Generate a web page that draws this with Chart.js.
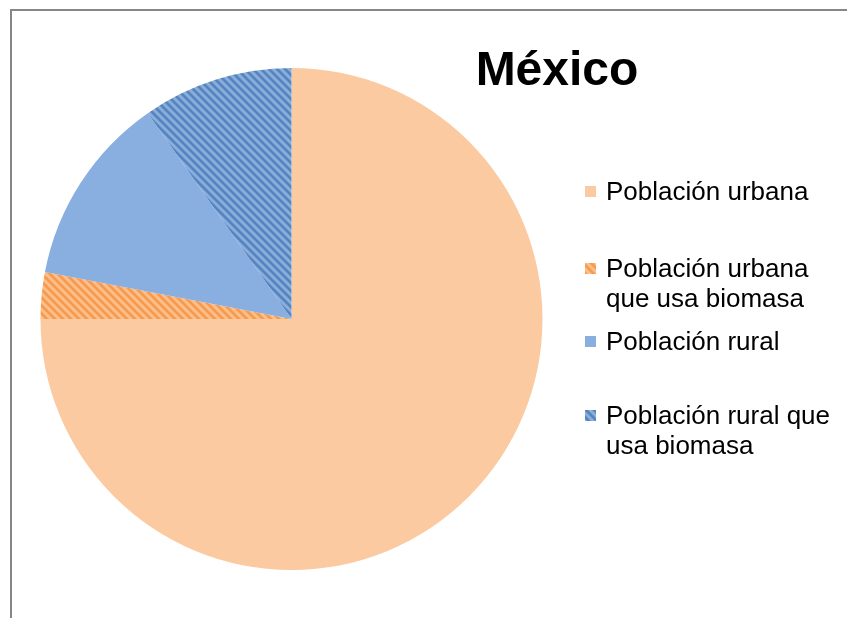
<!DOCTYPE html>
<html>
<head>
<meta charset="utf-8">
<script src="https://cdn.jsdelivr.net/npm/chart.js@4.4.1/dist/chart.umd.min.js"></script>
<style>
  html, body { margin: 0; padding: 0; background: #fff; }
  #wrap { position: relative; width: 847px; height: 618px; }
  #frame { position: absolute; left: 10px; top: 9px; right: 0; bottom: 0;
           border-top: 2px solid #868686; border-left: 2px solid #868686; }
  canvas { position: absolute; left: 0; top: 0; }
</style>
</head>
<body>
<div id="wrap">
  <div id="frame"></div>
  <canvas id="chart" width="847" height="618"></canvas>
</div>
<script>
const TITLE = 'México';
const categories = [
  ['Población urbana'],
  ['Población urbana', 'que usa biomasa'],
  ['Población rural'],
  ['Población rural que', 'usa biomasa'],
];
const shares = [75, 3, 12.3, 9.7];

// soft diagonal stripes, like the office "wide downward diagonal" fill
function stripePattern(dark, light) {
  const size = 8;
  const c = document.createElement('canvas');
  c.width = size;
  c.height = size;
  const g = c.getContext('2d');
  const img = g.createImageData(size, size);
  for (let y = 0; y < size; y++) {
    for (let x = 0; x < size; x++) {
      const t = (((x - y) % size) + size) % size;
      const k = 0.5 + 0.5 * Math.cos((t / size) * 2 * Math.PI);
      const i = (y * size + x) * 4;
      for (let ch = 0; ch < 3; ch++) {
        img.data[i + ch] = Math.round(dark[ch] * k + light[ch] * (1 - k));
      }
      img.data[i + 3] = 255;
    }
  }
  g.putImageData(img, 0, 0);
  return g.createPattern(c, 'repeat');
}

const fills = [
  '#FBCAA0',
  stripePattern([247, 150, 70], [251, 196, 148]),
  '#88AFE0',
  stripePattern([79, 129, 189], [146, 178, 222]),
];

const sideLegend = {
  id: 'sideLegend',
  afterDraw(chart) {
    const ctx = chart.ctx;
    ctx.save();
    ctx.fillStyle = '#000';
    ctx.textAlign = 'center';
    ctx.textBaseline = 'alphabetic';
    ctx.font = 'bold 48px "Liberation Sans", Arial, sans-serif';
    ctx.fillText(TITLE, 557, 85);

    const tops = [191, 268, 341, 415];
    ctx.textAlign = 'left';
    ctx.font = '26px "Liberation Sans", Arial, sans-serif';
    chart.data.labels.forEach((lines, i) => {
      const y = tops[i];
      ctx.fillStyle = chart.data.datasets[0].backgroundColor[i];
      ctx.fillRect(585, y - 5, 11, 11);
      ctx.fillStyle = '#000';
      lines.forEach((line, j) => {
        ctx.fillText(line, 606, y + 9 + j * 30);
      });
    });
    ctx.restore();
  },
};

new Chart(document.getElementById('chart'), {
  type: 'pie',
  data: {
    labels: categories,
    datasets: [{
      data: shares,
      backgroundColor: fills,
      borderWidth: 0,
    }],
  },
  options: {
    responsive: false,
    animation: false,
    layout: { padding: { left: 40, right: 304, top: 68, bottom: 48 } },
    plugins: {
      legend: { display: false },
      title: { display: false },
      tooltip: { enabled: false },
    },
  },
  plugins: [sideLegend],
});
</script>
</body>
</html>
